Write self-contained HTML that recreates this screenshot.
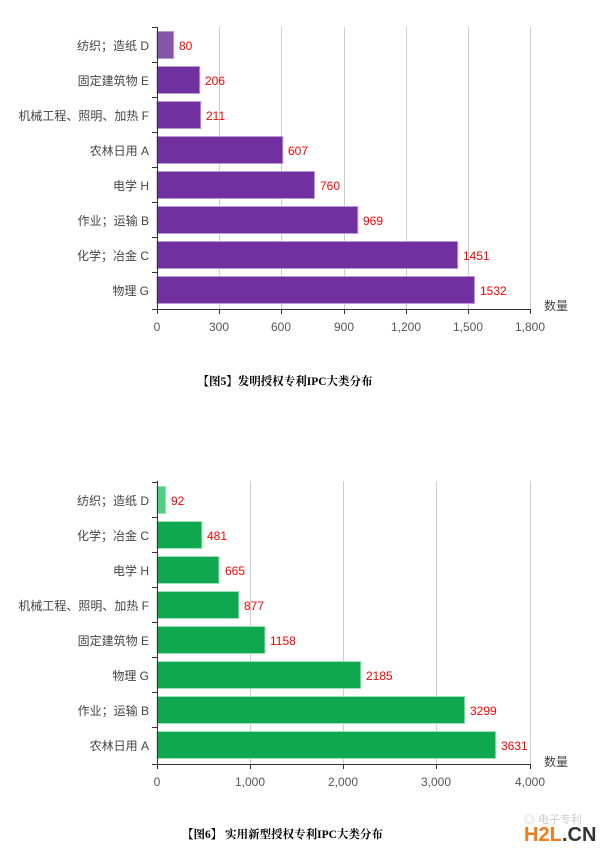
<!DOCTYPE html>
<html><head><meta charset="utf-8"><style>
html,body{margin:0;padding:0;background:#fff;}
svg{display:block;}
text{font-family:"Liberation Sans","Noto Sans CJK SC",sans-serif;}
.cap{font-family:"Liberation Serif","Noto Serif CJK SC",serif;font-weight:bold;font-size:11.5px;fill:#000;}
.lab{font-size:12px;fill:#444;text-anchor:end;}
.tk{font-size:12px;fill:#555;text-anchor:middle;}
.val{font-size:12px;fill:#f00;}
</style></head><body>
<svg width="609" height="856" viewBox="0 0 609 856" xmlns="http://www.w3.org/2000/svg">
<g stroke="#ccc" stroke-width="1">
<line x1="219.5" y1="27" x2="219.5" y2="309"/><line x1="281.5" y1="27" x2="281.5" y2="309"/><line x1="344.5" y1="27" x2="344.5" y2="309"/><line x1="406.5" y1="27" x2="406.5" y2="309"/><line x1="468.5" y1="27" x2="468.5" y2="309"/><line x1="530.5" y1="27" x2="530.5" y2="309"/>
<line x1="250.5" y1="481" x2="250.5" y2="764"/><line x1="343.5" y1="481" x2="343.5" y2="764"/><line x1="436.5" y1="481" x2="436.5" y2="764"/><line x1="530.5" y1="481" x2="530.5" y2="764"/>
</g>
<!-- chart 1 bars -->
<g stroke="#b89ad0" stroke-width="1">
<rect x="157" y="31.5" width="16.6" height="27" fill="#8456a6"/>
<rect x="157" y="66.5" width="42.7" height="27" fill="#7030a0"/>
<rect x="157" y="101.5" width="43.7" height="27" fill="#7030a0"/>
<rect x="157" y="136.5" width="125.8" height="27" fill="#7030a0"/>
<rect x="157" y="171.5" width="157.5" height="27" fill="#7030a0"/>
<rect x="157" y="206.5" width="200.8" height="27" fill="#7030a0"/>
<rect x="157" y="241.5" width="300.7" height="27" fill="#7030a0"/>
<rect x="157" y="276.5" width="317.5" height="27" fill="#7030a0"/>
</g>
<g class="val">
<text x="179" y="50">80</text><text x="205" y="85">206</text><text x="206" y="120">211</text><text x="288" y="155">607</text><text x="320" y="190">760</text><text x="363" y="225">969</text><text x="463" y="260">1451</text><text x="480" y="295">1532</text>
</g>
<g class="lab">
<text x="149" y="50">纺织；造纸 D</text><text x="149" y="85">固定建筑物 E</text><text x="149" y="120">机械工程、照明、加热 F</text><text x="149" y="155">农林日用 A</text><text x="149" y="190">电学 H</text><text x="149" y="225">作业；运输 B</text><text x="149" y="260">化学；冶金 C</text><text x="149" y="295">物理 G</text>
</g>
<g stroke="#333" stroke-width="1">
<line x1="157.5" y1="27" x2="157.5" y2="309"/><line x1="157" y1="309.5" x2="531" y2="309.5"/>
<line x1="152" y1="27.5" x2="157" y2="27.5"/><line x1="152" y1="62.5" x2="157" y2="62.5"/><line x1="152" y1="97.5" x2="157" y2="97.5"/><line x1="152" y1="132.5" x2="157" y2="132.5"/><line x1="152" y1="167.5" x2="157" y2="167.5"/><line x1="152" y1="202.5" x2="157" y2="202.5"/><line x1="152" y1="237.5" x2="157" y2="237.5"/><line x1="152" y1="272.5" x2="157" y2="272.5"/><line x1="152" y1="309.5" x2="157" y2="309.5"/>
<line x1="157.5" y1="309" x2="157.5" y2="314"/><line x1="219.5" y1="309" x2="219.5" y2="314"/><line x1="281.5" y1="309" x2="281.5" y2="314"/><line x1="344.5" y1="309" x2="344.5" y2="314"/><line x1="406.5" y1="309" x2="406.5" y2="314"/><line x1="468.5" y1="309" x2="468.5" y2="314"/><line x1="530.5" y1="309" x2="530.5" y2="314"/>
</g>
<g class="tk"><text x="157" y="331">0</text><text x="219" y="331">300</text><text x="281" y="331">600</text><text x="344" y="331">900</text><text x="406" y="331">1,200</text><text x="468" y="331">1,500</text><text x="530" y="331">1,800</text></g>
<text x="544" y="310" style="font-size:12px;fill:#444">数量</text>
<text class="cap" x="285" y="385" text-anchor="middle">【图5】发明授权专利IPC大类分布</text>

<!-- chart 2 bars -->
<g stroke="#9fe0b8" stroke-width="1">
<rect x="157" y="486.5" width="8.6" height="27" fill="#4ccf7f"/>
<rect x="157" y="521.5" width="44.9" height="27" fill="#0fa84f"/>
<rect x="157" y="556.5" width="62" height="27" fill="#0fa84f"/>
<rect x="157" y="591.5" width="81.8" height="27" fill="#0fa84f"/>
<rect x="157" y="626.5" width="108" height="27" fill="#0fa84f"/>
<rect x="157" y="661.5" width="203.8" height="27" fill="#0fa84f"/>
<rect x="157" y="696.5" width="307.7" height="27" fill="#0fa84f"/>
<rect x="157" y="731.5" width="338.7" height="27" fill="#0fa84f"/>
</g>
<g class="val">
<text x="171" y="505">92</text><text x="207" y="540">481</text><text x="225" y="575">665</text><text x="244" y="610">877</text><text x="270" y="645">1158</text><text x="366" y="680">2185</text><text x="470" y="715">3299</text><text x="501" y="750">3631</text>
</g>
<g class="lab">
<text x="149" y="505">纺织；造纸 D</text><text x="149" y="540">化学；冶金 C</text><text x="149" y="575">电学 H</text><text x="149" y="610">机械工程、照明、加热 F</text><text x="149" y="645">固定建筑物 E</text><text x="149" y="680">物理 G</text><text x="149" y="715">作业；运输 B</text><text x="149" y="750">农林日用 A</text>
</g>
<g stroke="#333" stroke-width="1">
<line x1="157.5" y1="481" x2="157.5" y2="764"/><line x1="157" y1="764.5" x2="531" y2="764.5"/>
<line x1="152" y1="482.5" x2="157" y2="482.5"/><line x1="152" y1="517.5" x2="157" y2="517.5"/><line x1="152" y1="552.5" x2="157" y2="552.5"/><line x1="152" y1="587.5" x2="157" y2="587.5"/><line x1="152" y1="622.5" x2="157" y2="622.5"/><line x1="152" y1="657.5" x2="157" y2="657.5"/><line x1="152" y1="692.5" x2="157" y2="692.5"/><line x1="152" y1="727.5" x2="157" y2="727.5"/><line x1="152" y1="764.5" x2="157" y2="764.5"/>
<line x1="157.5" y1="764" x2="157.5" y2="769"/><line x1="250.5" y1="764" x2="250.5" y2="769"/><line x1="343.5" y1="764" x2="343.5" y2="769"/><line x1="436.5" y1="764" x2="436.5" y2="769"/><line x1="530.5" y1="764" x2="530.5" y2="769"/>
</g>
<g class="tk"><text x="157" y="786">0</text><text x="250" y="786">1,000</text><text x="343" y="786">2,000</text><text x="436" y="786">3,000</text><text x="530" y="786">4,000</text></g>
<text x="544" y="766" style="font-size:12px;fill:#444">数量</text>
<text class="cap" x="182" y="838">【图6】 实用新型授权专利IPC大类分布</text>
<text x="524" y="823" style="font-size:11px;fill:#ccc">◎ 电子专利</text>
<text x="524" y="841" style="font-size:20px;font-weight:bold;fill:#f27a1a">H2L</text><text x="562" y="841" style="font-size:20px;font-weight:bold;fill:#333">.CN</text>
</svg>
</body></html>
